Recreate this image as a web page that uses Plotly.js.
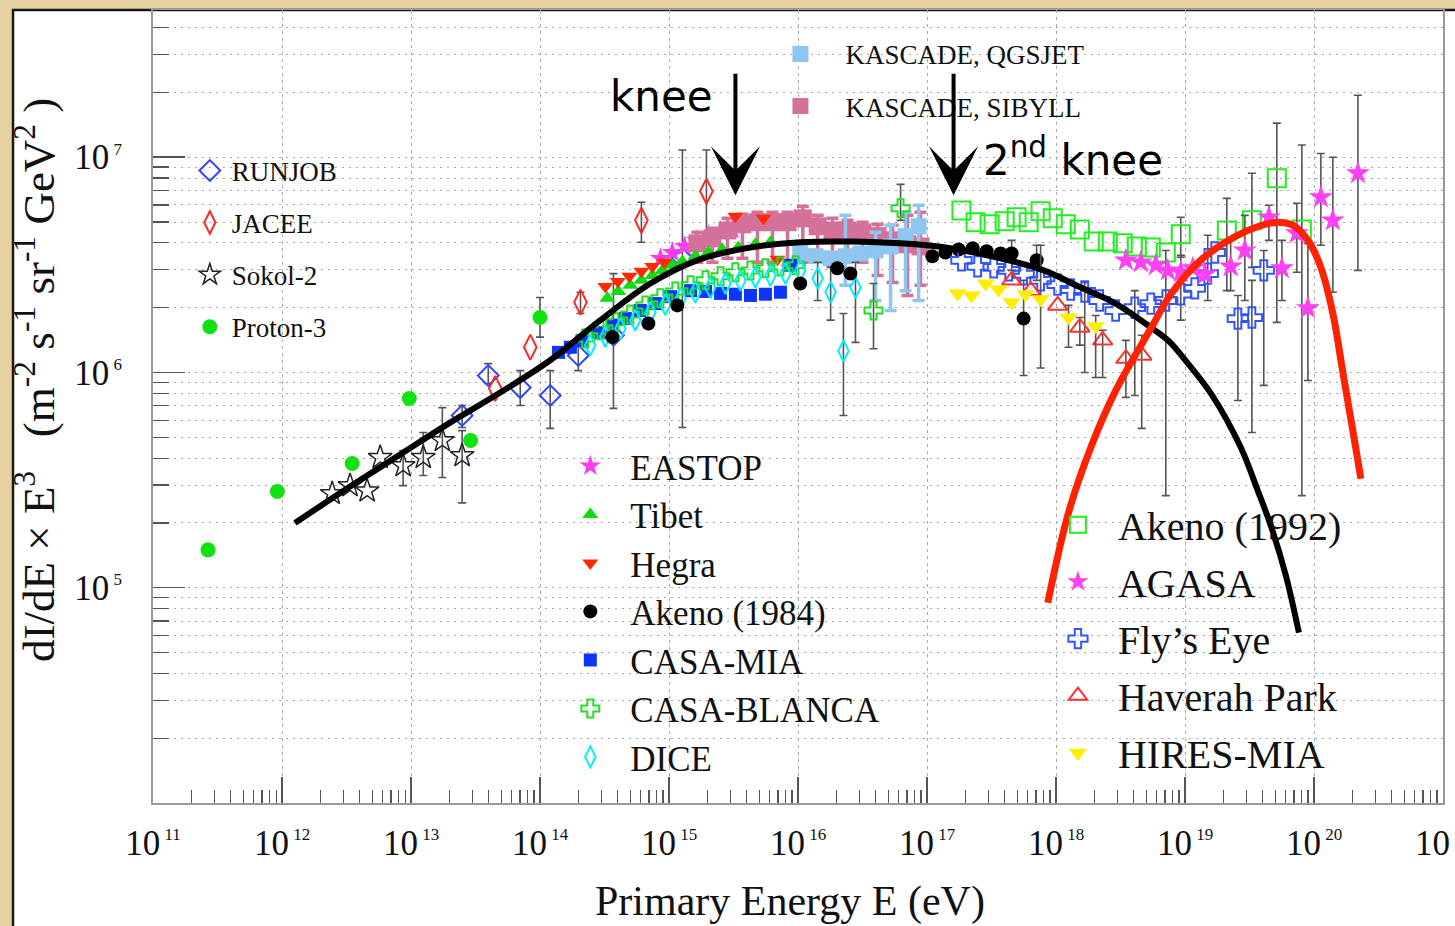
<!DOCTYPE html>
<html>
<head>
<meta charset="utf-8">
<script src="https://cdn.plot.ly/plotly-3.0.1.min.js"></script>
<style>
  html, body { margin: 0; padding: 0; background: #e8d4a6; }
  #chart { width: 1455px; height: 926px; }
</style>
</head>
<body>
<div id="chart"></div>
<script>
// ---------- axis decades ----------
const xExponents = [11, 12, 13, 14, 15, 16, 17, 18, 19, 20, 21];
const yExponents = [5, 6, 7];

// ---------- direct measurements, low energy ----------
const proton3E    = [2.67e11, 9.2e11, 3.5e12, 9.7e12, 2.9e13, 1.0e14];
const proton3Flux = [1.50e5, 2.80e5, 3.78e5, 7.57e5, 4.83e5, 1.80e6];
const proton3Hi   = [null, null, null, null, null, 2.23e6];
const proton3Lo   = [null, null, null, null, null, 1.46e6];

const sokolE    = [2.45e12, 3.37e12, 4.57e12, 5.77e12, 8.69e12, 1.245e13, 1.75e13, 2.49e13];
const sokolFlux = [2.74e5, 2.98e5, 2.82e5, 4.03e5, 3.69e5, 4.03e5, 4.83e5, 4.11e5];
const sokolHi   = [null, null, null, null, 4.34e5, 5.26e5, 6.87e5, 5.37e5];
const sokolLo   = [null, null, null, null, 2.98e5, 3.32e5, 3.25e5, 2.48e5];

const runjobE    = [2.49e13, 3.97e13, 7.03e13, 1.20e14, 1.98e14, 3.71e14, 1.27e15];
const runjobFlux = [6.31e5, 9.68e5, 8.51e5, 7.82e5, 1.20e6, 1.49e6, 3.39e6];
const runjobHi   = [7.03e5, 1.10e6, 1.02e6, 1.02e6, 1.41e6, 2.88e6, 1.08e7];
const runjobLo   = [5.55e5, 8.89e5, 7.03e5, 5.50e5, 1.02e6, 6.81e5, 5.55e5];

const jaceeE    = [4.50e13, 8.41e13, 2.06e14, 6.11e14, 1.95e15];
const jaceeFlux = [8.43e5, 1.31e6, 2.12e6, 5.09e6, 6.95e6];
const jaceeHi   = [null, null, 2.36e6, 6.18e6, 1.08e7];
const jaceeLo   = [null, null, 1.88e6, 4.03e6, 4.11e6];

// ---------- air-shower arrays around the knee ----------
const eastopE    = [8.57e14, 1.06e15, 1.32e15, 1.63e15, 2.02e15, 2.51e15, 3.10e15];
const eastopFlux = [3.39e6, 3.61e6, 3.85e6, 4.11e6, 4.34e6, 4.53e6, 4.62e6];

const tibetE    = [3.33e14, 4.05e14, 5.01e14, 6.11e14, 7.43e14, 8.89e14, 1.06e15, 1.27e15, 1.60e15, 2.02e15, 2.59e15, 3.45e15, 4.68e15, 6.12e15];
const tibetFlux = [2.21e6, 2.38e6, 2.54e6, 2.68e6, 2.82e6, 2.98e6, 3.15e6, 3.28e6, 3.47e6, 3.61e6, 3.73e6, 3.81e6, 3.94e6, 4.03e6];

const hegraE    = [3.21e14, 4.01e14, 4.93e14, 6.11e14, 7.43e14, 9.20e14, 3.27e15, 5.40e15, 6.93e15];
const hegraFlux = [2.51e6, 2.65e6, 2.80e6, 2.95e6, 3.11e6, 3.25e6, 5.32e6, 5.20e6, 3.36e6];

const akeno84E    = [3.64e14, 6.92e14, 1.16e15, 1.04e16, 2.02e16, 2.55e16, 1.10e17, 1.39e17, 1.76e17, 2.26e17, 2.90e17, 3.72e17, 4.53e17, 7.08e17, 5.61e17];
const akeno84Flux = [1.46e6, 1.69e6, 2.05e6, 2.59e6, 3.05e6, 2.88e6, 3.47e6, 3.61e6, 3.73e6, 3.78e6, 3.66e6, 3.57e6, 3.57e6, 3.32e6, 1.78e6];
const akeno84Hi   = [null, null, null, null, null, null, null, null, null, null, null, null, 4.11e6, 3.90e6, 2.68e6];
const akeno84Lo   = [null, null, null, null, null, null, null, null, null, null, null, null, 2.98e6, 2.68e6, 9.68e5];

const casaMiaE    = [1.39e14, 1.72e14, 2.13e14, 2.83e14, 3.64e14, 4.59e14, 6.00e14, 7.84e14, 1.03e15, 1.47e15, 1.92e15, 2.51e15, 3.27e15, 4.28e15, 5.59e15, 7.31e15, 8.75e15];
const casaMiaFlux = [1.24e6, 1.31e6, 1.41e6, 1.53e6, 1.66e6, 1.78e6, 1.94e6, 2.09e6, 2.25e6, 2.40e6, 2.38e6, 2.33e6, 2.31e6, 2.28e6, 2.31e6, 2.36e6, 3.15e6];

const casaBlancaE    = [2.24e14, 2.94e14, 3.84e14, 5.01e14, 6.56e14, 8.57e14, 1.12e15, 1.47e15, 1.92e15, 2.51e15, 3.27e15, 4.28e15, 5.59e15, 7.31e15, 9.57e15, 3.85e16, 6.24e16];
const casaBlancaFlux = [1.44e6, 1.57e6, 1.71e6, 1.86e6, 2.05e6, 2.21e6, 2.38e6, 2.54e6, 2.68e6, 2.80e6, 2.92e6, 2.98e6, 3.05e6, 3.11e6, 3.15e6, 1.94e6, 5.79e6];
const casaBlancaHi   = [null, null, null, null, null, null, null, null, null, null, null, null, null, null, null, 2.59e6, 7.48e6];
const casaBlancaLo   = [null, null, null, null, null, null, null, null, null, null, null, null, null, null, null, 1.29e6, 5.09e6];

const diceE    = [2.45e14, 3.21e14, 4.20e14, 5.48e14, 7.17e14, 9.38e14, 1.23e15, 1.60e15, 2.09e15, 2.74e15, 3.58e15, 4.68e15, 6.12e15, 8.00e15, 1.04e16, 1.42e16, 1.79e16, 2.25e16, 2.79e16];
const diceFlux = [1.34e6, 1.47e6, 1.60e6, 1.75e6, 1.90e6, 2.07e6, 2.21e6, 2.36e6, 2.48e6, 2.59e6, 2.68e6, 2.77e6, 2.82e6, 2.88e6, 2.98e6, 2.74e6, 2.36e6, 1.26e6, 2.48e6];
const diceHi   = [null, null, null, null, null, null, null, null, null, null, null, null, null, null, null, 3.25e6, 3.08e6, 1.88e6, 3.25e6];
const diceLo   = [null, null, null, null, null, null, null, null, null, null, null, null, null, null, null, 2.16e6, 1.75e6, 6.31e5, 1.38e6];

const kascadeQgsjetE    = [1.04e16, 1.37e16, 1.79e16, 2.33e16, 3.05e16, 3.99e16, 5.22e16, 6.82e16, 8.61e16];
const kascadeQgsjetFlux = [3.61e6, 3.47e6, 3.39e6, 3.47e6, 3.57e6, 3.69e6, 3.85e6, 4.30e6, 4.78e6];
const kascadeQgsjetHi   = [null, null, null, 5.37e6, null, 4.48e6, 4.83e6, 5.55e6, 5.98e6];
const kascadeQgsjetLo   = [null, null, null, 2.54e6, null, 2.16e6, 1.94e6, 2.40e6, 2.16e6];

const kascadeSibyllE    = [1.66e15, 2.17e15, 2.84e15, 3.71e15, 4.85e15, 6.34e15, 8.30e15, 1.09e16, 1.42e16, 1.85e16, 2.42e16, 3.16e16, 4.14e16, 5.41e16, 7.06e16, 8.91e16];
const kascadeSibyllFlux = [3.98e6, 4.20e6, 4.57e6, 4.88e6, 4.99e6, 4.99e6, 4.99e6, 5.20e6, 4.78e6, 4.57e6, 4.57e6, 4.48e6, 4.30e6, 4.11e6, 3.94e6, 3.85e6];
const kascadeSibyllHi   = [4.48e6, 4.68e6, 5.20e6, 5.43e6, 5.55e6, 5.55e6, 5.55e6, 5.92e6, 5.37e6, 5.20e6, 5.09e6, 4.99e6, 4.88e6, 4.83e6, 5.37e6, 5.55e6];
const kascadeSibyllLo   = [3.25e6, 3.25e6, 3.39e6, 3.39e6, 3.25e6, 3.25e6, 3.15e6, 3.25e6, 3.25e6, 3.15e6, 3.25e6, 3.25e6, 2.82e6, 2.62e6, 2.28e6, 2.54e6];

// ---------- highest energies ----------
const akeno92E    = [1.85e17, 2.38e17, 3.06e17, 4.00e17, 4.95e17, 6.14e17, 7.60e17, 9.44e17, 1.19e18, 1.53e18, 1.96e18, 2.52e18, 3.29e18, 4.23e18, 5.43e18, 7.10e18, 9.27e18, 2.11e19, 3.30e19, 5.15e19, 8.05e19];
const akeno92Flux = [5.66e6, 4.99e6, 4.88e6, 5.04e6, 5.26e6, 4.99e6, 5.61e6, 5.20e6, 4.88e6, 4.62e6, 4.06e6, 4.06e6, 3.98e6, 3.85e6, 3.81e6, 3.61e6, 4.39e6, 4.57e6, 5.09e6, 7.98e6, 4.62e6];
const akeno92Hi   = [null, null, null, null, null, null, null, null, null, null, null, null, null, null, null, null, 5.26e6, 6.44e6, 8.43e6, 1.44e7, 1.14e7];
const akeno92Lo   = [null, null, null, null, null, null, null, null, null, null, null, null, null, null, null, null, 3.43e6, 2.40e6, 3.08e6, 1.71e6, 2.68e5];

const agasaE    = [3.48e18, 4.54e18, 5.93e18, 7.36e18, 9.27e18, 1.15e19, 1.43e19, 2.26e19, 2.91e19, 4.47e19, 5.64e19, 7.36e19, 8.97e19, 1.13e20, 1.40e20, 2.19e20];
const agasaFlux = [3.32e6, 3.25e6, 3.15e6, 2.98e6, 2.92e6, 3.05e6, 2.86e6, 3.11e6, 3.69e6, 5.26e6, 3.05e6, 4.44e6, 1.99e6, 6.52e6, 5.09e6, 8.43e6];
const agasaHi   = [null, null, null, null, null, null, null, 4.11e6, 5.37e6, 5.98e6, 4.11e6, 6.11e6, 3.98e6, 1.04e7, 1.00e7, 1.94e7];
const agasaLo   = [null, null, null, null, null, null, null, 2.40e6, 2.16e6, 4.11e6, 2.16e6, 2.92e6, 9.18e5, 3.90e6, 2.36e6, 2.98e6];

const flysEyeE    = [1.85e17, 2.47e17, 3.29e17, 4.30e17, 5.61e17, 7.60e17, 1.03e18, 1.30e18, 1.67e18, 2.18e18, 2.90e18, 4.08e18, 5.43e18, 7.10e18, 9.27e18, 1.19e19, 1.50e19, 1.70e19, 2.57e19, 3.30e19, 4.08e19];
const flysEyeFlux = [3.32e6, 3.11e6, 3.08e6, 2.98e6, 2.86e6, 2.68e6, 2.56e6, 2.43e6, 2.38e6, 2.16e6, 1.94e6, 2.00e6, 2.09e6, 2.16e6, 2.31e6, 2.46e6, 2.88e6, 3.61e6, 1.78e6, 1.80e6, 2.98e6];
const flysEyeHi   = [null, null, null, null, null, 3.90e6, null, null, 2.62e6, null, null, 2.40e6, null, 3.69e6, 3.50e6, null, 4.34e6, null, 2.28e6, 2.68e6, 3.69e6];
const flysEyeLo   = [null, null, null, null, null, 1.05e6, null, null, 1.00e6, null, null, 7.82e5, null, 2.68e5, 1.75e6, null, 2.16e6, null, 7.41e5, 5.26e5, 8.71e5];

const haverahE    = [4.53e17, 6.37e17, 1.03e18, 1.53e18, 2.30e18, 3.48e18, 4.62e18];
const haverahFlux = [2.68e6, 2.40e6, 2.05e6, 1.62e6, 1.41e6, 1.16e6, 1.20e6];
const haverahHi   = [null, null, null, 1.80e6, 1.57e6, 1.41e6, 1.49e6];
const haverahLo   = [null, null, null, 1.34e6, 9.48e5, 7.66e5, 5.50e5];

const hiresE    = [1.73e17, 2.22e17, 2.85e17, 3.59e17, 4.53e17, 5.82e17, 7.60e17, 1.25e18, 2.03e18];
const hiresFlux = [2.33e6, 2.28e6, 2.59e6, 2.43e6, 2.12e6, 2.31e6, 2.19e6, 1.80e6, 1.64e6];
const hiresHi   = [null, null, null, null, null, null, null, 2.05e6, 1.84e6];
const hiresLo   = [null, null, null, null, null, null, null, 1.31e6, 9.48e5];

// ---------- drawn-in spectral curves ----------
const galacticCurveE    = [1.26e12, 3.37e12, 8.24e12, 2.01e13, 4.92e13, 1.20e14, 2.94e14, 7.17e14, 1.75e15, 4.28e15, 1.04e16, 2.55e16, 6.24e16, 1.52e17, 3.72e17, 8.04e17, 1.56e18, 2.90e18, 5.43e18, 7.48e18, 1.03e19, 1.61e19, 2.71e19, 3.67e19, 4.63e19, 6.05e19, 7.64e19];
const galacticCurveFlux = [2.00e5, 2.95e5, 4.16e5, 5.85e5, 8.07e5, 1.14e6, 1.75e6, 2.59e6, 3.36e6, 3.81e6, 4.03e6, 4.06e6, 3.98e6, 3.78e6, 3.39e6, 2.98e6, 2.48e6, 2.09e6, 1.62e6, 1.40e6, 1.12e6, 7.90e5, 4.48e5, 2.82e5, 1.94e5, 1.14e5, 6.18e4];

const extragalCurveE    = [8.63e17, 1.25e18, 1.86e18, 2.90e18, 5.43e18, 7.76e18, 1.32e19, 2.39e19, 3.73e19, 5.15e19, 6.86e19, 8.97e19, 1.13e20, 1.40e20, 1.68e20, 2.00e20, 2.31e20];
const extragalCurveFlux = [8.51e4, 2.23e5, 4.48e5, 8.24e5, 1.60e6, 2.31e6, 3.32e6, 4.25e6, 4.78e6, 4.99e6, 4.83e6, 4.11e6, 3.08e6, 1.88e6, 9.89e5, 5.37e5, 3.21e5];

// ---------- helpers ----------
const SERIF = 'Liberation Serif, Times New Roman, serif';

function errorBars(y, hi, lo, color, thickness, width) {
  if (!hi) return { visible: false };
  return {
    type: 'data', symmetric: false, visible: true,
    array: y.map((v, i) => (hi[i] == null ? NaN : hi[i] - v)),
    arrayminus: y.map((v, i) => (lo[i] == null ? NaN : v - lo[i])),
    color: color || '#555', thickness: thickness || 1.6, width: width || 4
  };
}

function series(name, E, flux, opts) {
  const open = opts.symbol.indexOf('open') >= 0;
  return {
    type: 'scatter', mode: 'markers', name: name,
    x: E, y: flux,
    legend: opts.legend, legendgroup: name, legendrank: opts.rank,
    marker: {
      symbol: opts.symbol, size: opts.size, color: opts.color,
      line: { color: opts.color, width: open ? (opts.lw || 2) : 0 }
    },
    error_y: errorBars(flux, opts.hi, opts.lo, opts.errColor, opts.errThick, opts.errWidth),
    hoverinfo: 'skip'
  };
}

const traces = [
  series('Proton-3', proton3E, proton3Flux, { symbol: 'circle', size: 15, color: '#11e011', legend: 'legend', rank: 4, hi: proton3Hi, lo: proton3Lo }),
  series('Sokol-2', sokolE, sokolFlux, { symbol: 'star-open', size: 18, color: '#222222', lw: 1.5, legend: 'legend', rank: 3, hi: sokolHi, lo: sokolLo }),
  series('RUNJOB', runjobE, runjobFlux, { symbol: 'diamond-open', size: 16, color: '#3344ff', legend: 'legend', rank: 1, hi: runjobHi, lo: runjobLo }),
  series('JACEE', jaceeE, jaceeFlux, { symbol: 'diamond-tall-open', size: 18, color: '#ff2828', legend: 'legend', rank: 2, hi: jaceeHi, lo: jaceeLo }),
  series('EASTOP', eastopE, eastopFlux, { symbol: 'star', size: 16, color: '#ff3cf0', legend: 'legend3', rank: 1 }),
  series('KASCADE, SIBYLL', kascadeSibyllE, kascadeSibyllFlux, { symbol: 'square', size: 18, color: '#d4719b', legend: 'legend2', rank: 2, hi: kascadeSibyllHi, lo: kascadeSibyllLo, errColor: '#d4719b', errThick: 3.5, errWidth: 6 }),
  series('KASCADE, QGSJET', kascadeQgsjetE, kascadeQgsjetFlux, { symbol: 'square', size: 16, color: '#8ec6f0', legend: 'legend2', rank: 1, hi: kascadeQgsjetHi, lo: kascadeQgsjetLo, errColor: '#8ec6f0', errThick: 3.5, errWidth: 6 }),
  series('Tibet', tibetE, tibetFlux, { symbol: 'triangle-up', size: 14, color: '#10dd10', legend: 'legend3', rank: 2 }),
  series('Hegra', hegraE, hegraFlux, { symbol: 'triangle-down', size: 14, color: '#ff2a00', legend: 'legend3', rank: 3 }),
  series('CASA-MIA', casaMiaE, casaMiaFlux, { symbol: 'square', size: 13, color: '#1034ff', legend: 'legend3', rank: 5 }),
  series('CASA-BLANCA', casaBlancaE, casaBlancaFlux, { symbol: 'cross-open', size: 15, color: '#22dd22', legend: 'legend3', rank: 6, hi: casaBlancaHi, lo: casaBlancaLo }),
  series('DICE', diceE, diceFlux, { symbol: 'diamond-tall-open', size: 15, color: '#00eeff', legend: 'legend3', rank: 7, hi: diceHi, lo: diceLo }),
  series('Akeno (1984)', akeno84E, akeno84Flux, { symbol: 'circle', size: 14, color: '#000000', legend: 'legend3', rank: 4, hi: akeno84Hi, lo: akeno84Lo }),
  series('Akeno (1992)', akeno92E, akeno92Flux, { symbol: 'square-open', size: 18, color: '#22ee22', legend: 'legend4', rank: 1, hi: akeno92Hi, lo: akeno92Lo }),
  series('Fly’s Eye', flysEyeE, flysEyeFlux, { symbol: 'cross-open', size: 17, color: '#3355ff', legend: 'legend4', rank: 3, hi: flysEyeHi, lo: flysEyeLo }),
  series('AGASA', agasaE, agasaFlux, { symbol: 'star', size: 18, color: '#ff40f4', legend: 'legend4', rank: 2, hi: agasaHi, lo: agasaLo }),
  series('Haverah Park', haverahE, haverahFlux, { symbol: 'triangle-up-open', size: 17, color: '#ff3030', legend: 'legend4', rank: 4, hi: haverahHi, lo: haverahLo }),
  series('HIRES-MIA', hiresE, hiresFlux, { symbol: 'triangle-down', size: 16, color: '#ffee00', legend: 'legend4', rank: 5, hi: hiresHi, lo: hiresLo }),
  {
    type: 'scatter', mode: 'lines', x: galacticCurveE, y: galacticCurveFlux,
    line: { color: '#000000', width: 6, shape: 'spline', smoothing: 1 },
    showlegend: false, hoverinfo: 'skip'
  },
  {
    type: 'scatter', mode: 'lines', x: extragalCurveE, y: extragalCurveFlux,
    line: { color: '#ff2200', width: 7, shape: 'spline', smoothing: 1 },
    showlegend: false, hoverinfo: 'skip'
  }
];

// ---------- ticks ----------
const xMajor = xExponents.map(e => Math.pow(10, e));
const xMinor = [];
xExponents.slice(0, -1).forEach(e => { for (let k = 2; k <= 9; k++) xMinor.push(k * Math.pow(10, e)); });
const yMajor = yExponents.map(e => Math.pow(10, e));
const yMinor = [];
[4, 5, 6, 7].forEach(e => { for (let k = 2; k <= 9; k++) yMinor.push(k * Math.pow(10, e)); });
const powLabel = e => '10<sup><span style="font-size:17px"> ' + e + '</span></sup>';

const gridDots = '2px,5px';

const legendBase = {
  xanchor: 'left', yanchor: 'top', bgcolor: 'rgba(0,0,0,0)', borderwidth: 0,
  traceorder: 'grouped'
};

// white boxes behind the legend blocks (paper coordinates)
function paperBox(x0, x1, y0, y1) {
  return {
    type: 'rect', xref: 'paper', yref: 'paper', layer: 'between',
    x0: x0, x1: x1, y0: y0, y1: y1,
    fillcolor: '#ffffff', line: { width: 0 }
  };
}

const layout = {
  width: 1455, height: 926,
  margin: { l: 153, r: 12, t: 10, b: 123, pad: 0 },
  paper_bgcolor: '#e6d1a2',
  plot_bgcolor: '#ffffff',
  font: { family: SERIF, color: '#111111' },
  showlegend: true,
  xaxis: {
    type: 'log', range: [11, 21],
    tickmode: 'array', tickvals: xMajor, ticktext: xExponents.map(powLabel),
    ticks: 'inside', ticklen: 26, tickwidth: 1.5, tickcolor: '#555',
    tickfont: { family: SERIF, size: 35, color: '#111' },
    ticklabelstandoff: 8, ticklabeloverflow: 'allow',
    showline: true, linecolor: '#999', linewidth: 2, mirror: true,
    showgrid: true, gridcolor: '#a8a8a8', griddash: '3px,4px', gridwidth: 1,
    zeroline: false,
    minor: { tickmode: 'array', tickvals: xMinor, ticks: 'inside', ticklen: 13, tickwidth: 1.2, tickcolor: '#555', showgrid: false }
  },
  yaxis: {
    type: 'log', range: [4, 7.684],
    tickmode: 'array', tickvals: yMajor, ticktext: yExponents.map(powLabel),
    ticks: 'inside', ticklen: 32, tickwidth: 1.5, tickcolor: '#555',
    tickfont: { family: SERIF, size: 35, color: '#111' },
    ticklabelstandoff: 22,
    showline: true, linecolor: '#999', linewidth: 2, mirror: true,
    showgrid: true, gridcolor: '#a8a8a8', griddash: gridDots, gridwidth: 1,
    zeroline: false,
    minor: { tickmode: 'array', tickvals: yMinor, ticks: 'inside', ticklen: 16, tickwidth: 1.2, tickcolor: '#555', showgrid: true, gridcolor: '#a8a8a8', griddash: gridDots, gridwidth: 1 }
  },
  legend:  Object.assign({}, legendBase, { x: 0.027, y: 0.828, itemwidth: 34, tracegroupgap: 14, font: { family: SERIF, size: 27, color: '#111' } }),
  legend2: Object.assign({}, legendBase, { x: 0.467, y: 0.975, itemwidth: 80, tracegroupgap: 14, font: { family: SERIF, size: 27, color: '#111' } }),
  legend3: Object.assign({}, legendBase, { x: 0.308, y: 0.462, itemwidth: 70, tracegroupgap: 0, font: { family: SERIF, size: 35, color: '#111' } }),
  legend4: Object.assign({}, legendBase, { x: 0.686, y: 0.392, itemwidth: 70, tracegroupgap: 2, font: { family: SERIF, size: 40, color: '#111' } }),
  shapes: [
    // picture frame
    { type: 'rect', xref: 'paper', yref: 'paper', layer: 'below',
      x0: -0.1085, x1: 1.05, y0: -0.2, y1: 1.0,
      fillcolor: '#ffffff', line: { color: '#1a1a1a', width: 2.5 } },
    paperBox(0.033, 0.152, 0.572, 0.822),
    paperBox(0.487, 0.729, 0.853, 0.968),
    paperBox(0.327, 0.572, 0.030, 0.450),
    paperBox(0.701, 0.934, 0.022, 0.383)
  ],
  annotations: [
    { xref: 'paper', yref: 'paper', x: 0.4938, y: -0.1245, xanchor: 'center', yanchor: 'middle',
      text: 'Primary Energy E (eV)', showarrow: false, font: { family: SERIF, size: 42, color: '#111' } },
    { xref: 'paper', yref: 'paper', x: -0.0915, y: 0.5334, xanchor: 'center', yanchor: 'middle', textangle: -90,
      text: 'dI/dE × E<sup>3</sup>   (m<sup>-2</sup> s<sup>-1</sup> sr<sup>-1</sup> GeV<sup>2</sup> )',
      showarrow: false, font: { family: SERIF, size: 45, color: '#111' } },
    { xref: 'paper', yref: 'paper', x: 0.3938, y: 0.8903, xanchor: 'center', yanchor: 'middle',
      text: 'knee', showarrow: false, font: { family: 'DejaVu Sans', size: 42, color: '#000' } },
    { xref: 'paper', yref: 'paper', x: 0.7132, y: 0.8146, xanchor: 'center', yanchor: 'middle',
      text: '2<sup>nd</sup> knee', showarrow: false, font: { family: 'DejaVu Sans', size: 42, color: '#000' } },
    { xref: 'x', yref: 'y', x: 15.515, y: 6.823, text: '', showarrow: true,
      ax: 0, ay: -123, arrowhead: 3, arrowsize: 2.05, arrowwidth: 4, arrowcolor: '#000', standoff: 0 },
    { xref: 'x', yref: 'y', x: 17.206, y: 6.823, text: '', showarrow: true,
      ax: 0, ay: -123, arrowhead: 3, arrowsize: 2.05, arrowwidth: 4, arrowcolor: '#000', standoff: 0 }
  ]
};

Plotly.newPlot('chart', traces, layout, { displayModeBar: false, staticPlot: true });
</script>
</body>
</html>
